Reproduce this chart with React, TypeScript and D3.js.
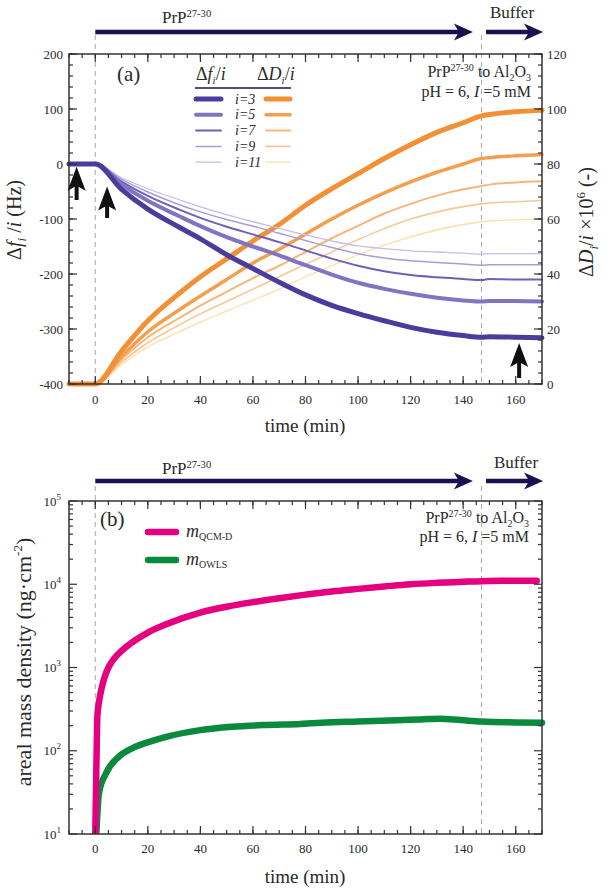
import React from 'react';
import * as d3 from 'd3';

// ---------- data: panel (a) ----------
const timeA = [-10, 0, 10, 20, 32, 40, 50, 60, 70, 80, 90, 100, 110, 120, 130, 140, 147, 150, 160, 170];
const harmonics = [3, 5, 7, 9, 11];
const df3 = [0, 0, -46, -82, -115, -136, -165, -190, -215, -238, -257, -272, -285, -297, -306, -312, -315, -314, -315, -316];
const df5 = [0, 0, -37, -67, -95, -113, -133, -150, -166, -184, -201, -216, -227, -236, -243, -248, -250, -249, -249, -250];
const df7 = [0, 0, -32, -58, -83, -98, -114, -128, -142, -157, -172, -185, -195, -202, -206, -209, -211, -209, -210, -210];
const df9 = [0, 0, -28, -51, -74, -87, -101, -113, -126, -139, -152, -163, -171, -176, -179, -182, -184, -183, -183, -183];
const df11 = [0, 0, -25, -45, -65, -78, -92, -105, -117, -129, -140, -149, -154, -158, -160, -162, -164, -163, -163, -163];
const dD3 = [0, 0, 12, 23, 33, 39, 45.5, 52, 58, 65, 71, 76.5, 82, 87, 91.5, 95, 97.5, 98, 99, 99.5];
const dD5 = [0, 0, 10, 19, 27, 32, 38, 44, 49, 54.5, 60, 65, 69.5, 73.5, 77, 80, 82, 82.3, 83, 83.5];
const dD7 = [0, 0, 9, 17, 24, 28.5, 33.5, 38.5, 43, 48, 53, 57.5, 62, 65.5, 68.5, 70.8, 72, 72.5, 73.3, 73.7];
const dD9 = [0, 0, 8, 15, 21.5, 25.5, 30, 34.5, 39, 43.5, 48, 52.5, 56.5, 60, 62.5, 64.5, 65.5, 65.8, 66.3, 66.7];
const dD11 = [0, 0, 7, 13.5, 19, 22.5, 26.5, 30.5, 34.5, 39, 43, 47, 50.5, 53.5, 56, 58, 59, 59.3, 59.7, 60];
const dfSeries = [df3, df5, df7, df9, df11];
const dDSeries = [dD3, dD5, dD7, dD9, dD11];

// ---------- data: panel (b) ----------
const timeQ = [0, 0.4, 0.8, 1.5, 2.5, 3.5, 5, 7, 10, 14, 20, 27, 40, 50, 60, 70, 80, 90, 100, 110, 120, 130, 140, 147, 155, 168];
const massQCMD = [10, 60, 260, 400, 580, 760, 1000, 1260, 1580, 2000, 2630, 3310, 4570, 5370, 6100, 6800, 7500, 8200, 8800, 9400, 10000, 10400, 10700, 10900, 11000, 11000];
const timeO = [0.4, 1.4, 4, 9, 14, 20.5, 27, 40, 52, 65, 78, 86, 100, 115, 124, 131, 139, 147, 160, 170];
const massOWLS = [10, 31, 53, 85, 107, 128, 147, 177, 194, 204, 210, 217, 225, 233, 238, 243, 234, 224, 219, 217];

// phases (min)
const injectionStart = 0;
const bufferStart = 147;

// ---------- styles ----------
const FONT = "'Liberation Serif', 'Times New Roman', Times, serif";
const purple = ['#4a3c9c', '#8174c2', '#6e60b6', '#a69ed9', '#c4bee8'];
const orange = ['#f39035', '#f59e4c', '#f7b57c', '#f8c796', '#fbe0a6'];
const widthsF = [5, 4, 2, 1.5, 1.3];
const widthsD = [5, 3.5, 2, 1.6, 1.3];
const NAVY = '#1e0f52';
const AXIS = '#333';
const TXT = '#2a2a2a';

function NavyArrow({ x1, x2, y }: { x1: number; x2: number; y: number }) {
  return (
    <g>
      <line x1={x1} x2={x2 - 12} y1={y} y2={y} stroke={NAVY} strokeWidth={4.5} />
      <polygon points={`${x2},${y} ${x2 - 19},${y - 8.5} ${x2 - 14},${y} ${x2 - 19},${y + 8.5}`} fill={NAVY} />
    </g>
  );
}

function UpArrow({ x, tip, bottom }: { x: number; tip: number; bottom: number }) {
  return (
    <g>
      <line x1={x} x2={x} y1={tip + 16} y2={bottom} stroke="#111" strokeWidth={4} />
      <polygon points={`${x},${tip} ${x + 9},${tip + 24} ${x},${tip + 19} ${x - 9},${tip + 24}`} fill="#111" />
    </g>
  );
}

function PrPLabel({ x, y, size }: { x: number; y: number; size: number }) {
  return (
    <text x={x} y={y} fontSize={size} fill={TXT}>
      PrP<tspan fontSize={size * 0.62} dy={-size * 0.38}>27-30</tspan>
    </text>
  );
}

function Annotation({ xr, y1, y2 }: { xr: number; y1: number; y2: number }) {
  const s = 16;
  return (
    <g fill={TXT}>
      <text x={xr} y={y1} fontSize={s} textAnchor="end">
        PrP<tspan fontSize={10} dy={-6}>27-30</tspan>
        <tspan dy={6}> to Al</tspan>
        <tspan fontSize={10} dy={4}>2</tspan>
        <tspan dy={-4}>O</tspan>
        <tspan fontSize={10} dy={4}>3</tspan>
      </text>
      <text x={xr} y={y2} fontSize={s} textAnchor="end">
        pH = 6, <tspan fontStyle="italic">I</tspan> =5 mM
      </text>
    </g>
  );
}

export default function App() {
  const xs = d3.scaleLinear().domain([-10, 170]).range([69, 542]);
  const yF = d3.scaleLinear().domain([-400, 200]).range([384, 54]);
  const yD = d3.scaleLinear().domain([0, 120]).range([384, 54]);
  const yM = d3.scaleLog().domain([10, 1e5]).range([834, 501]);

  const lineF = d3.line<number>().x((_, i) => xs(timeA[i])).y((v) => yF(v)).curve(d3.curveMonotoneX);
  const lineD = d3.line<number>().x((_, i) => xs(timeA[i])).y((v) => yD(v)).curve(d3.curveMonotoneX);
  const lineQ = d3.line<number>().x((_, i) => xs(timeQ[i])).y((v) => yM(v)).curve(d3.curveMonotoneX);
  const lineO = d3.line<number>().x((_, i) => xs(timeO[i])).y((v) => yM(v)).curve(d3.curveMonotoneX);

  const [L, R] = xs.range();
  const aTop = yF.range()[1], aBot = yF.range()[0];
  const bTop = yM.range()[1], bBot = yM.range()[0];

  const xMajor = xs.ticks(9);
  const xMinor = xs.ticks(36);
  const fMajor = yF.ticks(6);
  const fMinor = yF.ticks(30);
  const dMajor = yD.ticks(6);
  const dMinor = d3.range(0, 121, 4);
  const mAll = yM.ticks();
  const isDecade = (v: number) => Math.abs(Math.log10(v) - Math.round(Math.log10(v))) < 1e-9;

  const MAJ = 8, MIN = 4;

  const xTicks = (top: number, bot: number) => (
    <g stroke={AXIS} strokeWidth={1.2}>
      {xMinor.map((t) => (
        <g key={'m' + t}>
          <line x1={xs(t)} x2={xs(t)} y1={bot} y2={bot - MIN} />
          <line x1={xs(t)} x2={xs(t)} y1={top} y2={top + MIN} />
        </g>
      ))}
      {xMajor.map((t) => (
        <g key={'M' + t}>
          <line x1={xs(t)} x2={xs(t)} y1={bot} y2={bot - MAJ} />
          <line x1={xs(t)} x2={xs(t)} y1={top} y2={top + MAJ} />
        </g>
      ))}
    </g>
  );
  const xLabels = (y: number) => (
    <g fontSize={13} fill={TXT} textAnchor="middle">
      {xMajor.map((t) => (
        <text key={t} x={xs(t)} y={y}>{t}</text>
      ))}
    </g>
  );

  return (
    <svg width={610} height={893} style={{ position: 'absolute', left: 0, top: 0, background: '#fff', fontFamily: FONT }}>
      <defs>
        <clipPath id="clipA"><rect x={L - 4} y={aTop} width={R - L + 8} height={aBot - aTop + 4} /></clipPath>
        <clipPath id="clipB"><rect x={L} y={bTop} width={R - L + 6} height={bBot - bTop} /></clipPath>
      </defs>

      {/* ================= Panel (a) ================= */}
      <NavyArrow x1={xs(injectionStart)} x2={xs(143.7)} y={32} />
      <NavyArrow x1={xs(148.7)} x2={xs(170.4)} y={32} />
      <PrPLabel x={162} y={23} size={17} />
      <text x={490} y={18} fontSize={17} fill={TXT}>Buffer</text>
      {[injectionStart, bufferStart].map((t) => (
        <line key={t} x1={xs(t)} x2={xs(t)} y1={35} y2={aBot} stroke="#aaa" strokeWidth={1} strokeDasharray="5,4" />
      ))}

      <g clipPath="url(#clipA)" fill="none" strokeLinecap="round" strokeLinejoin="round">
        {[...dDSeries].reverse().map((s, j) => {
          const k = 4 - j;
          return <path key={'d' + k} d={lineD(s) || ''} stroke={orange[k]} strokeWidth={widthsD[k]} />;
        })}
        {[...dfSeries].reverse().map((s, j) => {
          const k = 4 - j;
          return <path key={'f' + k} d={lineF(s) || ''} stroke={purple[k]} strokeWidth={widthsF[k]} />;
        })}
      </g>

      {/* frame a */}
      <rect x={L} y={aTop} width={R - L} height={aBot - aTop} fill="none" stroke={AXIS} strokeWidth={1.5} />
      {xTicks(aTop, aBot)}
      <g stroke={AXIS} strokeWidth={1.2}>
        {fMinor.map((v) => <line key={'fm' + v} x1={L} x2={L + MIN} y1={yF(v)} y2={yF(v)} />)}
        {fMajor.map((v) => <line key={'fM' + v} x1={L} x2={L + MAJ} y1={yF(v)} y2={yF(v)} />)}
        {dMinor.map((v) => <line key={'dm' + v} x1={R} x2={R - MIN} y1={yD(v)} y2={yD(v)} />)}
        {dMajor.map((v) => <line key={'dM' + v} x1={R} x2={R - MAJ} y1={yD(v)} y2={yD(v)} />)}
      </g>
      <g fontSize={13} fill={TXT}>
        {fMajor.map((v) => (
          <text key={v} x={L - 6} y={yF(v) + 4.5} textAnchor="end">{v < 0 ? '-' + Math.abs(v) : v}</text>
        ))}
        {dMajor.map((v) => (
          <text key={v} x={R + 5} y={yD(v) + 4.5} textAnchor="start">{v}</text>
        ))}
      </g>
      {xLabels(404)}
      <text x={305} y={432} fontSize={19} fill={TXT} textAnchor="middle">time (min)</text>
      <text transform="translate(21,220) rotate(-90)" fontSize={20} fill={TXT} textAnchor="middle">
        Δ<tspan fontStyle="italic">f</tspan><tspan fontStyle="italic" fontSize={13} dy={5}>i</tspan>
        <tspan dy={-5}> /</tspan><tspan fontStyle="italic">i</tspan> (Hz)
      </text>
      <text transform="translate(593,222) rotate(-90)" fontSize={20} fill={TXT} textAnchor="middle">
        Δ<tspan fontStyle="italic">D</tspan><tspan fontStyle="italic" fontSize={13} dy={5}>i</tspan>
        <tspan dy={-5}>/</tspan><tspan fontStyle="italic">i</tspan> ×10<tspan fontSize={13} dy={-8}>6</tspan>
        <tspan dy={8}> (-)</tspan>
      </text>
      <text x={117} y={81} fontSize={21} fill={TXT}>(a)</text>
      <Annotation xr={531} y1={77} y2={97} />

      {/* legend a */}
      <g fill={TXT}>
        <text x={196} y={80} fontSize={18}>
          Δ<tspan fontStyle="italic">f</tspan><tspan fontStyle="italic" fontSize={11} dy={4}>i</tspan>
          <tspan dy={-4}>/</tspan><tspan fontStyle="italic">i</tspan>
        </text>
        <text x={257} y={80} fontSize={18}>
          Δ<tspan fontStyle="italic">D</tspan><tspan fontStyle="italic" fontSize={11} dy={4}>i</tspan>
          <tspan dy={-4}>/</tspan><tspan fontStyle="italic">i</tspan>
        </text>
        <line x1={195} x2={291} y1={88} y2={88} stroke={NAVY} strokeWidth={1.5} />
        {harmonics.map((h, k) => {
          const y = 99 + k * 15.8;
          return (
            <g key={h}>
              <line x1={196} x2={221} y1={y} y2={y} stroke={purple[k]} strokeWidth={widthsF[k]} strokeLinecap="round" />
              <line x1={266} x2={290} y1={y} y2={y} stroke={orange[k]} strokeWidth={widthsD[k]} strokeLinecap="round" />
              <text x={235} y={y + 4.5} fontSize={14} fontStyle="italic" textAnchor="start">
                {'i=' + h}
              </text>
            </g>
          );
        })}
      </g>

      <UpArrow x={xs(-7.1)} tip={yF(-5)} bottom={200} />
      <UpArrow x={xs(4.5)} tip={yF(-41)} bottom={218} />
      <UpArrow x={xs(161.3)} tip={yF(-325.5)} bottom={378} />

      {/* ================= Panel (b) ================= */}
      <NavyArrow x1={xs(injectionStart)} x2={xs(143.7)} y={481} />
      <NavyArrow x1={xs(148.7)} x2={xs(170.4)} y={481} />
      <PrPLabel x={162} y={474} size={17} />
      <text x={494} y={468} fontSize={17} fill={TXT}>Buffer</text>
      {[injectionStart, bufferStart].map((t) => (
        <line key={t} x1={xs(t)} x2={xs(t)} y1={486} y2={bBot} stroke="#aaa" strokeWidth={1} strokeDasharray="5,4" />
      ))}

      <g clipPath="url(#clipB)" fill="none" strokeLinecap="round" strokeLinejoin="round">
        <path d={lineO(massOWLS) || ''} stroke="#0b8a3e" strokeWidth={6.5} />
        <path d={lineQ(massQCMD) || ''} stroke="#e5007f" strokeWidth={6.5} />
      </g>

      <rect x={L} y={bTop} width={R - L} height={bBot - bTop} fill="none" stroke={AXIS} strokeWidth={1.5} />
      {xTicks(bTop, bBot)}
      <g stroke={AXIS} strokeWidth={1.2}>
        {mAll.map((v) => {
          const len = isDecade(v) ? MAJ : MIN;
          return (
            <g key={v}>
              <line x1={L} x2={L + len} y1={yM(v)} y2={yM(v)} />
              <line x1={R} x2={R - len} y1={yM(v)} y2={yM(v)} />
            </g>
          );
        })}
      </g>
      <g fontSize={13} fill={TXT}>
        {mAll.filter(isDecade).map((v) => (
          <text key={v} x={L - 8} y={yM(v) + 4.5} textAnchor="end">
            10<tspan fontSize={9} dy={-6}>{Math.round(Math.log10(v))}</tspan>
          </text>
        ))}
      </g>
      {xLabels(853)}
      <text x={305} y={883} fontSize={19} fill={TXT} textAnchor="middle">time (min)</text>
      <text transform="translate(31,662) rotate(-90)" fontSize={22} fill={TXT} textAnchor="middle">
        areal mass density (ng·cm<tspan fontSize={13} dy={-9}>-2</tspan><tspan dy={9}>)</tspan>
      </text>
      <text x={100} y={526} fontSize={21} fill={TXT}>(b)</text>
      <Annotation xr={529} y1={523} y2={542} />

      <g fill={TXT}>
        <line x1={148} x2={176} y1={532} y2={532} stroke="#e5007f" strokeWidth={6.5} strokeLinecap="round" />
        <text x={186} y={537} fontSize={18} fontStyle="italic">m<tspan fontStyle="normal" fontSize={10} dy={3}>QCM-D</tspan></text>
        <line x1={148} x2={176} y1={560} y2={560} stroke="#0b8a3e" strokeWidth={6.5} strokeLinecap="round" />
        <text x={186} y={565} fontSize={18} fontStyle="italic">m<tspan fontStyle="normal" fontSize={10} dy={3}>OWLS</tspan></text>
      </g>
    </svg>
  );
}
